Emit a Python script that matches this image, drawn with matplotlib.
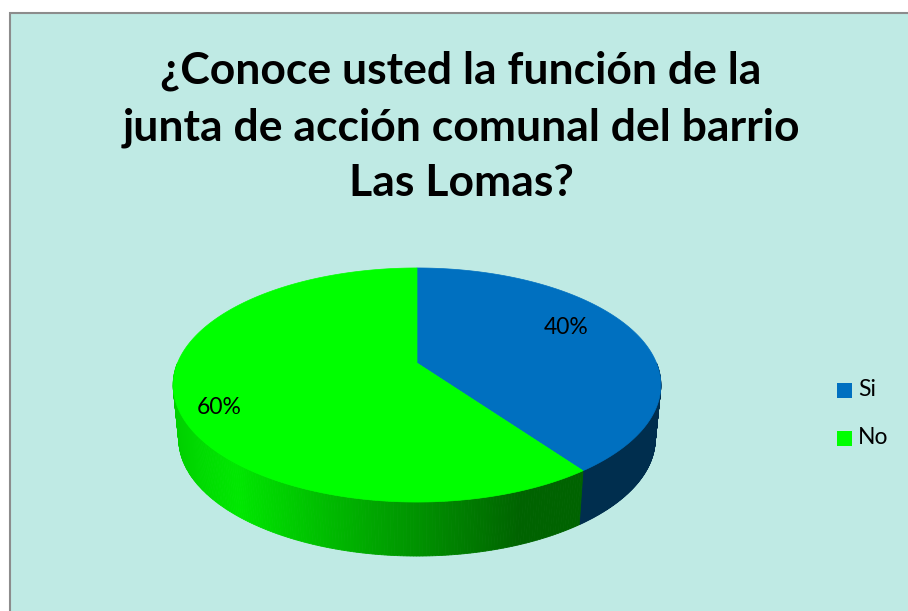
import numpy as np
import matplotlib
matplotlib.use("Agg")
import matplotlib.pyplot as plt
from matplotlib.patches import Polygon, Rectangle

# DATOS
categorias = ["Si", "No"]
porcentajes = [40, 60]
colores_top = ["#0070C0", "#00FF00"]
titulo = "¿Conoce usted la función de la\njunta de acción comunal del barrio\nLas Lomas?"

# GEOMETRIA (pixeles) - pastel 3D con perspectiva
W, H = 908, 611
cx, cy = 417, 363      # centro del pastel en pantalla
A, B = 239.5, 112.9    # semiejes antes de perspectiva
p = 0.188              # fuerza de la perspectiva
depth = 54
shrink = 0.977         # la cara de abajo se ve un poco mas chica


def punto(theta, abajo=False):
    x, y = np.cos(theta), np.sin(theta)
    w = 1 + p * y
    X = cx + A * x / w
    Y = cy - B * y / w
    if abajo:
        X = cx + (X - cx) * shrink
        Y = Y + depth
    return X, Y


def color_lado(i, theta):
    if i == 0:
        return "#002E4E"
    # degradado verde: claro a la izquierda, oscuro a la derecha
    x = np.cos(theta)
    if x < -0.65:
        g = 0.80 + 0.11 * (x + 1) / 0.35
    else:
        t = np.clip((x + 0.65) / 1.0, 0, 1)
        g = 0.91 * (1 - t) + 0.39 * t
    return (0.0, g, 0.0)


fig = plt.figure(figsize=(W / 100, H / 100), dpi=100)
ax = fig.add_axes([0, 0, 1, 1])
ax.set_xlim(0, W)
ax.set_ylim(H, 0)
ax.axis("off")

ax.add_patch(Rectangle((9.5, 12.5), W + 10, H + 10, facecolor="#BFEAE4",
                       edgecolor="#8C8C8C", linewidth=1.5))

# angulos de cada porcion (sentido horario desde arriba)
fr = np.array(porcentajes) / sum(porcentajes)
inicio = np.pi / 2 - 2 * np.pi * np.concatenate([[0], np.cumsum(fr)[:-1]])
fin = inicio - 2 * np.pi * fr

# lados (solo la parte frontal, theta entre -pi y 0)
for i in range(len(fr)):
    t0, t1 = min(fin[i], inicio[i]), max(fin[i], inicio[i])
    lo, hi = max(t0, -np.pi), min(t1, 0)
    if lo >= hi:
        continue
    ths = np.linspace(lo, hi, 200)
    for k in range(len(ths) - 1):
        c = color_lado(i, ths[k])
        quad = [punto(ths[k]), punto(ths[k + 1]),
                punto(ths[k + 1], True), punto(ths[k], True)]
        ax.add_patch(Polygon(quad, closed=True, facecolor=c,
                             edgecolor=c, linewidth=0.6))

# caras superiores
for i in range(len(fr)):
    ths = np.linspace(inicio[i], fin[i], 300)
    pts = [(cx, cy)] + [punto(t) for t in ths]
    ax.add_patch(Polygon(pts, closed=True, facecolor=colores_top[i],
                         edgecolor=colores_top[i], linewidth=0.5))

# etiquetas
pos_etiquetas = [(566, 328), (219, 408)]
for i, v in enumerate(porcentajes):
    ax.text(pos_etiquetas[i][0], pos_etiquetas[i][1], f"{v}%", fontsize=16.5,
            ha="center", va="center", family="Lato")

ax.text(461, 127, titulo, fontsize=32, fontweight="bold", family="Lato",
        ha="center", va="center", linespacing=1.47)

# leyenda
for i, cat in enumerate(categorias):
    y = 390 + 48 * i
    ax.add_patch(Rectangle((837, y - 7.5), 15, 15, facecolor=colores_top[i],
                           edgecolor="none"))
    ax.text(858, y, cat, fontsize=16.5, family="Lato", ha="left", va="center")

fig.savefig("out.png", dpi=100)
